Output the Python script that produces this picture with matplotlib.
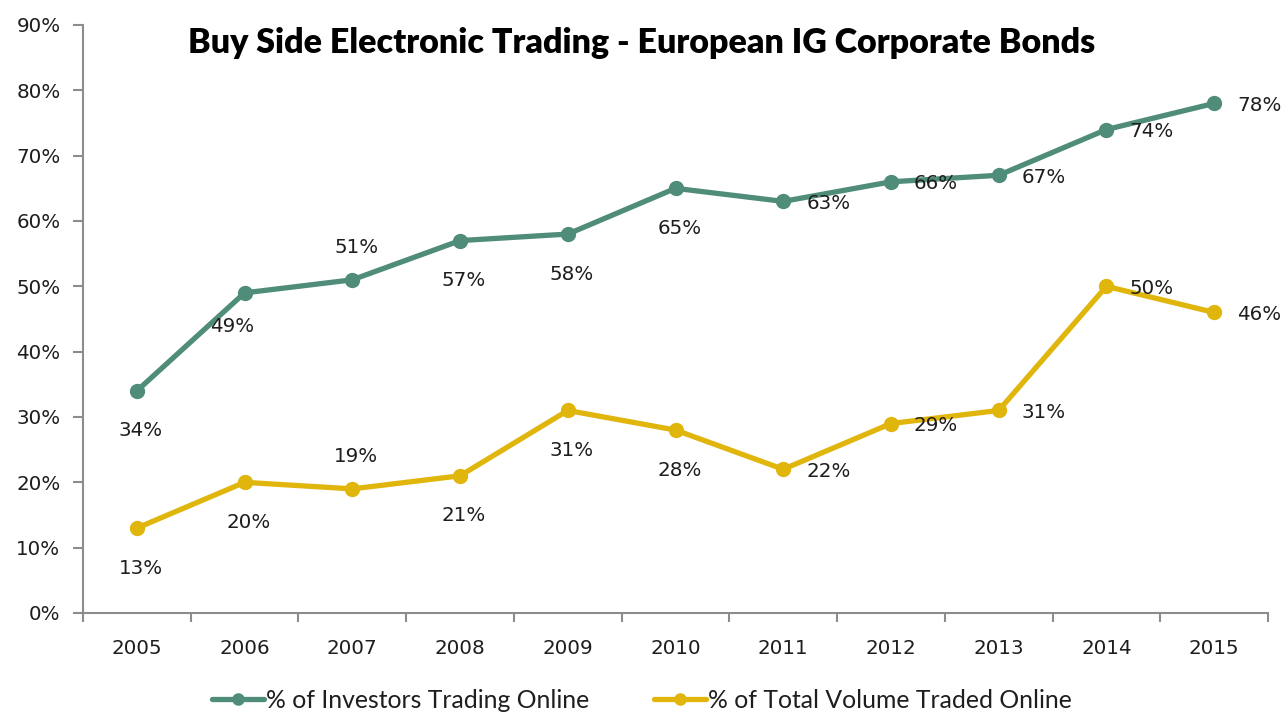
import numpy as np
import matplotlib as mpl
import matplotlib.pyplot as plt
from matplotlib.ticker import FuncFormatter

plt.rcParams['font.family'] = ['DejaVu Sans']

# data
years = ['2005', '2006', '2007', '2008', '2009', '2010', '2011', '2012', '2013', '2014', '2015']
investors_online = [34, 49, 51, 57, 58, 65, 63, 66, 67, 74, 78]
volume_online = [13, 20, 19, 21, 31, 28, 22, 29, 31, 50, 46]

# where each data label sits relative to its marker
investors_pos = ['below', 'belowleft', 'above', 'below', 'below', 'below',
                 'right', 'right', 'right', 'right', 'right']
volume_pos = ['below', 'below', 'above', 'below', 'below', 'below',
              'right', 'right', 'right', 'right', 'right']

green = '#4f8c79'
yellow = '#e0b50c'
grey = '#8c8c8c'
txt = '#1e1e1e'

offsets = {
    'below': (4, -40),
    'belowleft': (-12, -34),
    'above': (4, 32),
    'right': (45, -2),
}

fig = plt.figure(figsize=(12.84, 7.14), dpi=100)
ax = fig.add_axes([83/1284, 1 - 613/714, (1268 - 83)/1284, (613 - 25)/714])

x = np.arange(len(years))
l1, = ax.plot(x, investors_online, color=green, lw=3.8, marker='o', ms=10,
              label='% of Investors Trading Online', solid_capstyle='round')
l2, = ax.plot(x, volume_online, color=yellow, lw=3.8, marker='o', ms=10,
              label='% of Total Volume Traded Online', solid_capstyle='round')

for vals, pos in [(investors_online, investors_pos), (volume_online, volume_pos)]:
    for xi, v, p in zip(x, vals, pos):
        ax.annotate('{0}%'.format(v), (xi, v), xytext=offsets[p], textcoords='offset pixels',
                    ha='center', va='center', fontsize=14.3, color=txt)

ax.set_xlim(-0.5, len(years) - 0.5)
ax.set_ylim(0, 90)
ax.set_yticks(np.arange(0, 91, 10))
ax.yaxis.set_major_formatter(FuncFormatter(lambda v, p: '{0:.0f}%'.format(v)))
ax.set_xticks(x)
ax.set_xticklabels(years)
ax.set_xticks(np.arange(-0.5, len(years)), minor=True)

ax.tick_params(axis='y', length=7.2, width=1.5, color=grey, pad=9, labelsize=14.3, labelcolor=txt)
ax.tick_params(axis='x', which='major', length=0, pad=19, labelsize=14.3, labelcolor=txt)
ax.tick_params(axis='x', which='minor', length=6.5, width=1.5, color=grey)

for s in ['top', 'right']:
    ax.spines[s].set_visible(False)
for s in ['left', 'bottom']:
    ax.spines[s].set_color(grey)
    ax.spines[s].set_linewidth(1.5)

fig.text(0.5, 1 - 43/714, 'Buy Side Electronic Trading - European IG Corporate Bonds',
         ha='center', va='center', fontsize=24.5, fontweight='heavy', family='Lato', color='black')

leg = fig.legend(handles=[l1, l2], loc='center', bbox_to_anchor=(0.5, 1 - 700/714),
                 ncol=2, frameon=False, columnspacing=2.6, handlelength=2.1, handletextpad=0.1,
                 markerscale=0.8, borderpad=0.1, prop={'family': 'Lato', 'size': 17.8})
for t in leg.get_texts():
    t.set_color(txt)

plt.savefig('out.png', dpi=100)
